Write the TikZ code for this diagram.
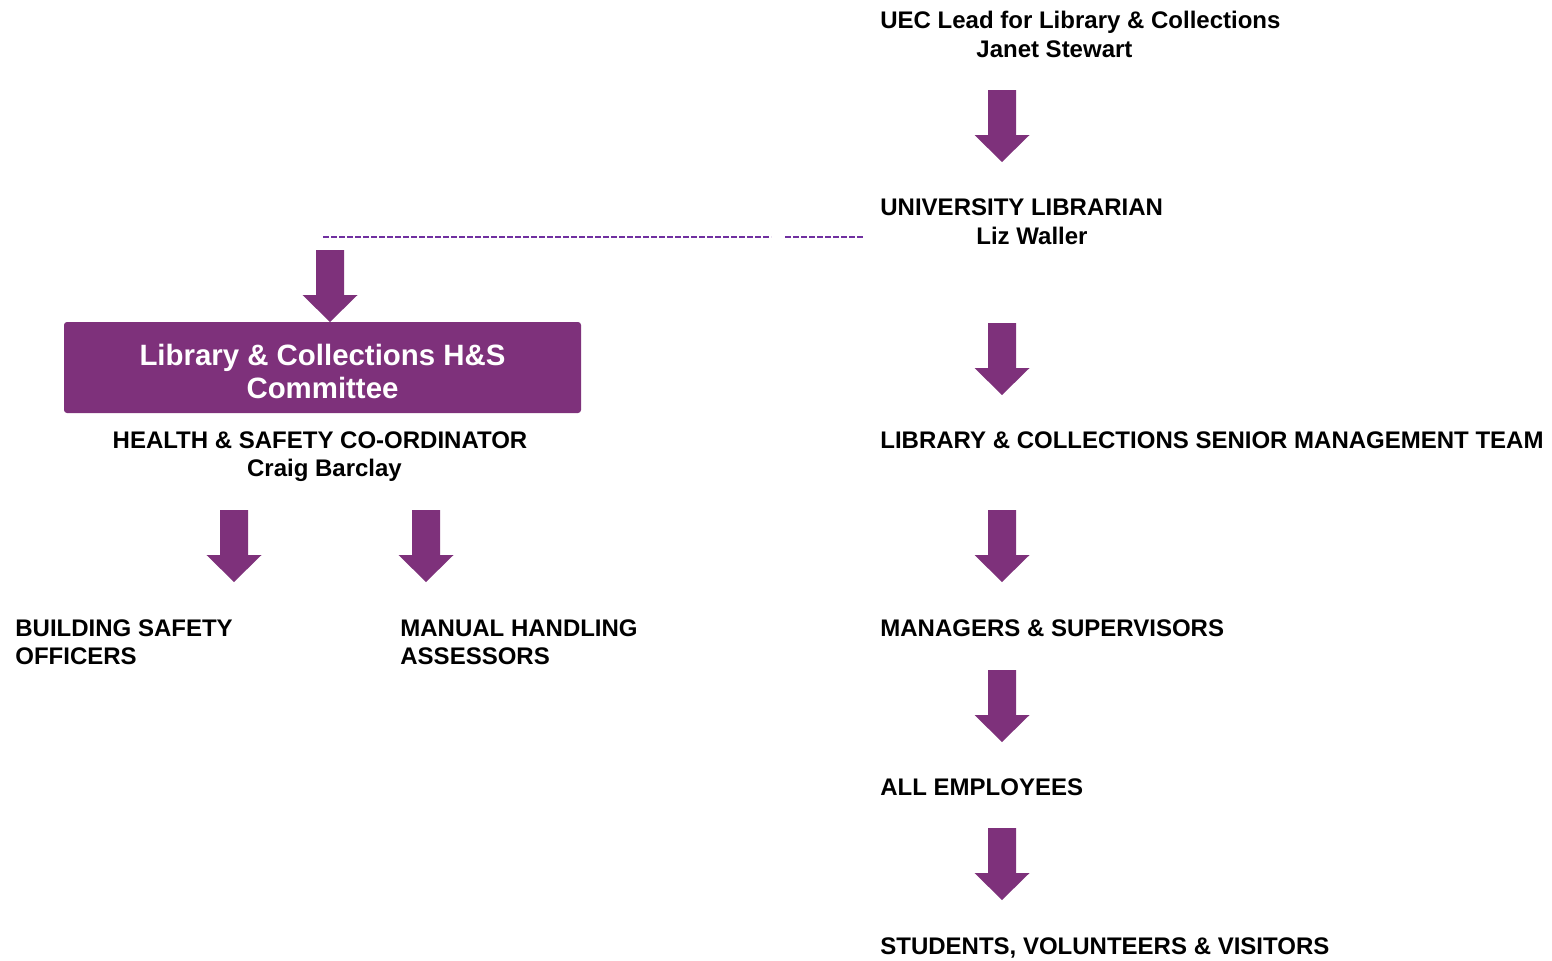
\documentclass[tikz,border=0pt]{standalone}
\usepackage{fontspec}
\setmainfont{Liberation Sans}
\definecolor{plum}{RGB}{126,49,123}
\definecolor{dashpurple}{RGB}{112,48,160}
\begin{document}
\begin{tikzpicture}[x=0.5pt,y=-0.5pt,
  lbl/.style={anchor=base west,inner sep=0pt,font=\fontsize{12}{14}\selectfont\bfseries},
  clbl/.style={anchor=base,inner sep=0pt,font=\fontsize{12}{14}\selectfont\bfseries},
  committee/.style={draw=none,fill=plum,rounded corners=1.5pt,minimum width=258.5pt,minimum height=45.5pt},
  cttext/.style={text=white,align=center,inner sep=0pt,font=\fontsize{14.7}{16.5}\selectfont\bfseries},
  dashline/.style={draw=dashpurple,line width=1.3pt,dash pattern=on 2.9pt off 1.1pt},
  blockarrow/.pic={\fill[plum] (-14,0) -- (14,0) -- (14,45) -- (27.5,45) -- (0,72) -- (-27.5,45) -- (-14,45) -- cycle;}
]
\useasboundingbox (0,0) rectangle (1552,960);

% right column texts
\node[lbl] (uec) at (880,28) {UEC Lead for Library \& Collections};
\node[lbl] (janet) at (976,57) {Janet Stewart};
\node[lbl] (ul) at (880,215) {UNIVERSITY LIBRARIAN};
\node[lbl] (liz) at (976,244) {Liz Waller};
\node[lbl] (smt) at (880,448) {LIBRARY \& COLLECTIONS SENIOR MANAGEMENT TEAM};
\node[lbl] (mgr) at (880,636) {MANAGERS \& SUPERVISORS};
\node[lbl] (emp) at (880,795) {ALL EMPLOYEES};
\node[lbl] (stu) at (880,954) {STUDENTS, VOLUNTEERS \& VISITORS};

% right column arrows
\pic (a1) at (1002,90) {blockarrow};
\pic (a2) at (1002,323) {blockarrow};
\pic (a3) at (1002,510) {blockarrow};
\pic (a4) at (1002,670) {blockarrow};
\pic (a5) at (1002,828) {blockarrow};

% left side
\node[committee,label={[cttext,yshift=-2pt]center:Library \& Collections H\&S\\Committee}] (cttee) at (322.5,367.5) {};
\node[clbl] (hsc) at (320,448) {HEALTH \& SAFETY CO-ORDINATOR};
\node[clbl] (craig) at (324.5,476) {Craig Barclay};
\node[lbl] (bso1) at (15,636) {BUILDING SAFETY};
\node[lbl] (bso2) at (15,664) {OFFICERS};
\node[lbl] (mha1) at (400,636) {MANUAL HANDLING};
\node[lbl] (mha2) at (400,664) {ASSESSORS};

\pic (a6) at (330,250) {blockarrow};
\pic (a7) at (234,510) {blockarrow};
\pic (a8) at (426,510) {blockarrow};

% dashed link from University Librarian to committee
\coordinate (d0) at (323,237);
\coordinate (d1) at (771,237);
\coordinate (d2) at (785,237);
\coordinate (d3) at (863,237);
\draw[dashline] (d0) -- (d1);
\draw[dashline] (d2) -- (d3);
\end{tikzpicture}
\end{document}
